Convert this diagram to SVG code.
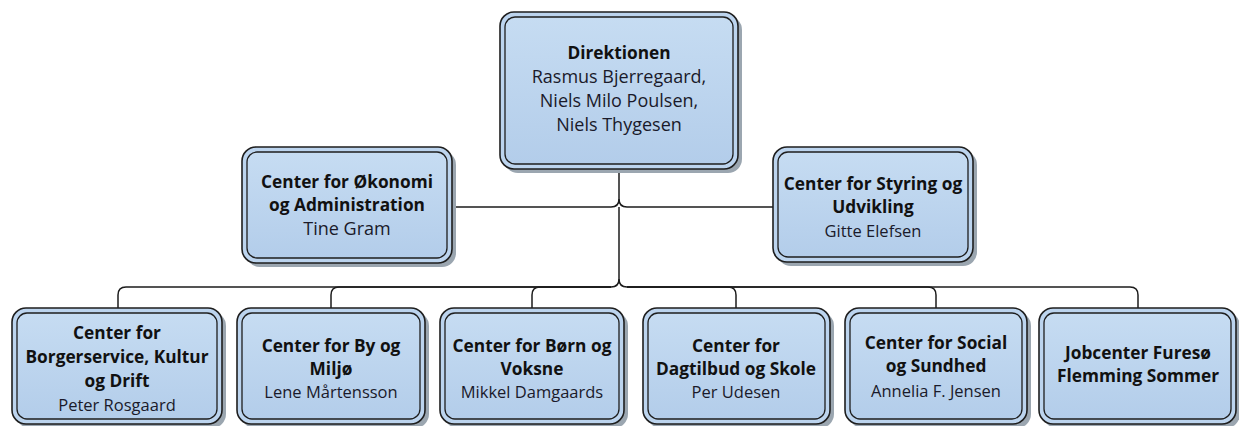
<svg xmlns="http://www.w3.org/2000/svg" width="1239" height="426" viewBox="0 0 1239 426">
<defs>
<linearGradient id="fillg" x1="0" y1="0" x2="0" y2="1">
<stop offset="0" stop-color="#c6dcf2"/>
<stop offset="1" stop-color="#b3cdea"/>
</linearGradient>
<style>
.sh{fill:#9ba6b0;}
.outer{fill:#bcd4ee;stroke:#1e1e1e;stroke-width:1.6;}
.inner{fill:url(#fillg);stroke:#1e1e1e;stroke-width:1.3;}
.t{font-family:"Open Sans",Lato,"Liberation Sans",sans-serif;text-anchor:middle;fill:#111;}
.b{font-weight:bold;font-size:17.3px;}
.n{font-size:18px;fill:#1a1a2a;}
.s{font-size:16.5px;fill:#1a1a2a;}
.c{fill:none;stroke:#1c1c1c;stroke-width:1.5;}
</style>
</defs>
<rect width="1239" height="426" fill="#ffffff"/>
<g id="connectors">
<path class="c" d="M619 170 V199 Q619 207 611 207 H452"/>
<path class="c" d="M619 199 Q619 207 627 207 H773"/>
<path class="c" d="M619 207 V279 Q619 287 611 287 H126 Q118 287 118 295 V308"/>
<path class="c" d="M611 287 H339 Q331 287 331 295 V308"/>
<path class="c" d="M611 287 H540 Q532 287 532 295 V308"/>
<path class="c" d="M619 279 Q619 287 627 287 H1130 Q1138 287 1138 295 V308"/>
<path class="c" d="M627 287 H728 Q736 287 736 295 V308"/>
<path class="c" d="M627 287 H928 Q936 287 936 295 V308"/>
</g>
<g id="direktionen">
<rect class="sh" x="504" y="16" width="238" height="157" rx="14"/>
<rect class="outer" x="500" y="12" width="238" height="157" rx="14"/>
<rect class="inner" x="505" y="17" width="228" height="147" rx="10"/>
<text class="t b" x="619" y="59">Direktionen</text>
<text class="t n" x="619" y="83">Rasmus Bjerregaard,</text>
<text class="t n" x="619" y="107">Niels Milo Poulsen,</text>
<text class="t n" x="619" y="131">Niels Thygesen</text>
</g>
<g id="oekonomi">
<rect class="sh" x="246" y="151" width="210" height="116" rx="14"/>
<rect class="outer" x="242" y="147" width="210" height="116" rx="14"/>
<rect class="inner" x="247" y="152" width="200" height="106" rx="10"/>
<text class="t b" x="347" y="188">Center for Økonomi</text>
<text class="t b" x="347" y="211">og Administration</text>
<text class="t n" x="347" y="235">Tine Gram</text>
</g>
<g id="styring">
<rect class="sh" x="777" y="151" width="200" height="115" rx="14"/>
<rect class="outer" x="773" y="147" width="200" height="115" rx="14"/>
<rect class="inner" x="778" y="152" width="190" height="105" rx="10"/>
<text class="t b" x="873" y="190">Center for Styring og</text>
<text class="t b" x="873" y="213">Udvikling</text>
<text class="t s" x="873" y="237">Gitte Elefsen</text>
</g>
<g id="borgerservice">
<rect class="sh" x="16" y="312" width="210" height="116" rx="14"/>
<rect class="outer" x="12" y="308" width="210" height="116" rx="14"/>
<rect class="inner" x="17" y="313" width="200" height="106" rx="10"/>
<text class="t b" x="117" y="339">Center for</text>
<text class="t b" x="117" y="363">Borgerservice, Kultur</text>
<text class="t b" x="117" y="387">og Drift</text>
<text class="t s" x="117" y="411">Peter Rosgaard</text>
</g>
<g id="bymiljoe">
<rect class="sh" x="241" y="312" width="188" height="116" rx="14"/>
<rect class="outer" x="237" y="308" width="188" height="116" rx="14"/>
<rect class="inner" x="242" y="313" width="178" height="106" rx="10"/>
<text class="t b" x="331" y="352">Center for By og</text>
<text class="t b" x="331" y="375">Miljø</text>
<text class="t s" x="331" y="398">Lene Mårtensson</text>
</g>
<g id="boernvoksne">
<rect class="sh" x="444" y="312" width="184" height="116" rx="14"/>
<rect class="outer" x="440" y="308" width="184" height="116" rx="14"/>
<rect class="inner" x="445" y="313" width="174" height="106" rx="10"/>
<text class="t b" x="532" y="352">Center for Børn og</text>
<text class="t b" x="532" y="375">Voksne</text>
<text class="t s" x="532" y="398">Mikkel Damgaards</text>
</g>
<g id="dagtilbud">
<rect class="sh" x="647" y="312" width="187" height="116" rx="14"/>
<rect class="outer" x="643" y="308" width="187" height="116" rx="14"/>
<rect class="inner" x="648" y="313" width="177" height="106" rx="10"/>
<text class="t b" x="736" y="352">Center for</text>
<text class="t b" x="736" y="375">Dagtilbud og Skole</text>
<text class="t s" x="736" y="398">Per Udesen</text>
</g>
<g id="socialsundhed">
<rect class="sh" x="849" y="312" width="182" height="116" rx="14"/>
<rect class="outer" x="845" y="308" width="182" height="116" rx="14"/>
<rect class="inner" x="850" y="313" width="172" height="106" rx="10"/>
<text class="t b" x="936" y="349">Center for Social</text>
<text class="t b" x="936" y="372">og Sundhed</text>
<text class="t s" x="936" y="397">Annelia F. Jensen</text>
</g>
<g id="jobcenter">
<rect class="sh" x="1043" y="312" width="197" height="116" rx="14"/>
<rect class="outer" x="1039" y="308" width="197" height="116" rx="14"/>
<rect class="inner" x="1044" y="313" width="187" height="106" rx="10"/>
<text class="t b" x="1138" y="359">Jobcenter Furesø</text>
<text class="t b" x="1138" y="382">Flemming Sommer</text>
</g>
</svg>
